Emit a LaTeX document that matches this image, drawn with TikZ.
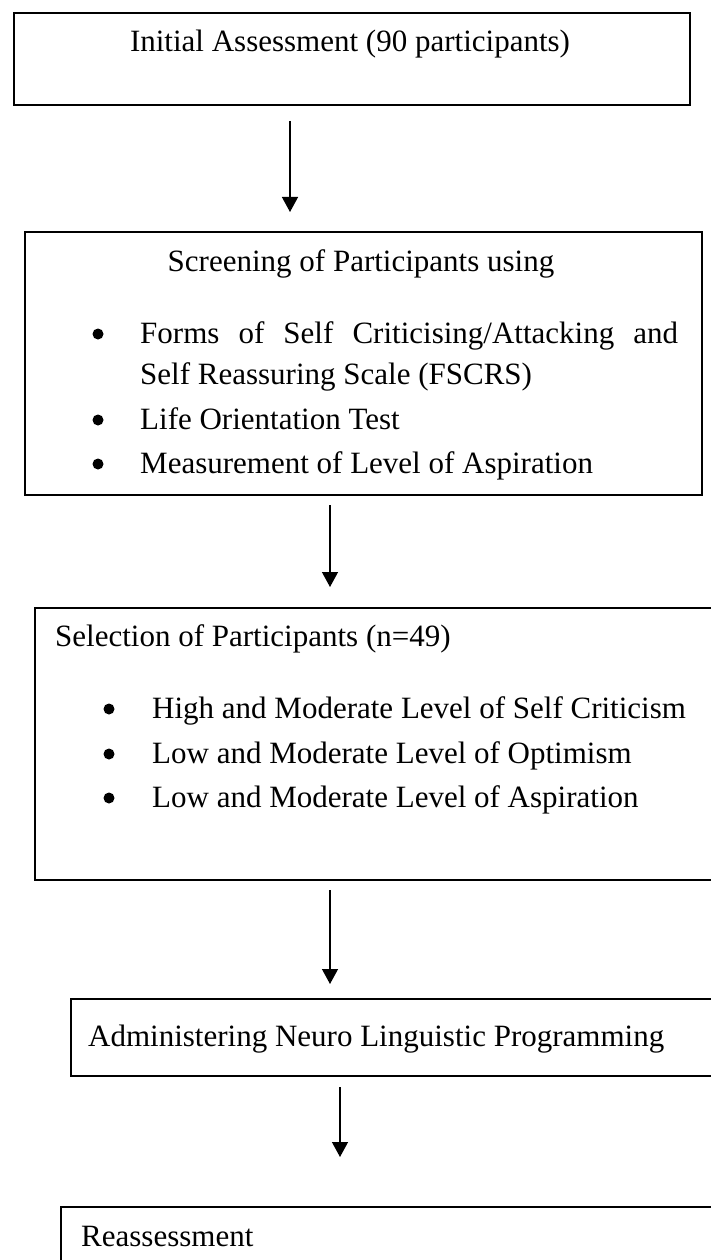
\documentclass[tikz,border=0pt]{standalone}
\usepackage{fontspec}
\setmainfont{Liberation Serif}
\usetikzlibrary{arrows.meta}
\begin{document}
\begin{tikzpicture}[x=1pt,y=-1pt,
  boxline/.style={draw=black, line width=2pt, inner sep=0pt, anchor=north west},
  flow/.style={draw=black, line width=1.3pt, -{Triangle[width=16pt,length=15pt]}},
  txt/.style={font=\fontsize{31}{37}\selectfont, inner sep=0pt, anchor=base west},
  ctxt/.style={font=\fontsize{31}{37}\selectfont, inner sep=0pt, anchor=base},
  bul/.style={circle, fill=black, inner sep=0pt, minimum size=11pt}]
\useasboundingbox (0,0) rectangle (711,1260);
% boxes
\node[boxline, minimum width=676pt, minimum height=92pt] (b1) at (12.7,12.3) {};
\node[boxline, minimum width=677pt, minimum height=263pt] (b2) at (23.5,231) {};
\node[boxline, minimum width=690pt, minimum height=272pt] (b3) at (34,607) {};
\node[boxline, minimum width=690pt, minimum height=77pt] (b4) at (70,998) {};
\node[boxline, minimum width=700pt, minimum height=100pt] (b5) at (60,1206) {};
% box 1 text
\node[ctxt] (t1) at (350,52) {Initial Assessment (90 participants)};
% box 2 text
\node[ctxt] (t2) at (361,271) {Screening of Participants using};
\node[bul] (d21) at (98,334) {};
\node[txt] (t21) at (140,343) {\makebox[538pt][s]{Forms of Self Criticising/Attacking and}};
\node[txt] (t22) at (140,384) {Self Reassuring Scale (FSCRS)};
\node[bul] (d22) at (98,420) {};
\node[txt] (t23) at (140,429) {Life Orientation Test};
\node[bul] (d23) at (98,464) {};
\node[txt] (t24) at (140,473) {Measurement of Level of Aspiration};
% box 3 text
\node[txt] (t3) at (55,646) {Selection of Participants (n=49)};
\node[bul] (d31) at (109,709) {};
\node[txt] (t31) at (152,718) {High and Moderate Level of Self Criticism};
\node[bul] (d32) at (109,754) {};
\node[txt] (t32) at (152,763) {Low and Moderate Level of Optimism};
\node[bul] (d33) at (109,798) {};
\node[txt] (t33) at (152,807) {Low and Moderate Level of Aspiration};
% box 4 text
\node[txt] (t4) at (88,1046) {Administering Neuro Linguistic Programming};
% box 5 text
\node[txt] (t5) at (81,1246) {Reassessment};
% arrows
\coordinate (a1s) at (290,121); \coordinate (a1e) at (290,212);
\coordinate (a2s) at (330,505); \coordinate (a2e) at (330,587);
\coordinate (a3s) at (330,890); \coordinate (a3e) at (330,984);
\coordinate (a4s) at (340,1087); \coordinate (a4e) at (340,1157);
\draw[flow] (a1s) -- (a1e);
\draw[flow] (a2s) -- (a2e);
\draw[flow] (a3s) -- (a3e);
\draw[flow] (a4s) -- (a4e);
\end{tikzpicture}
\end{document}
